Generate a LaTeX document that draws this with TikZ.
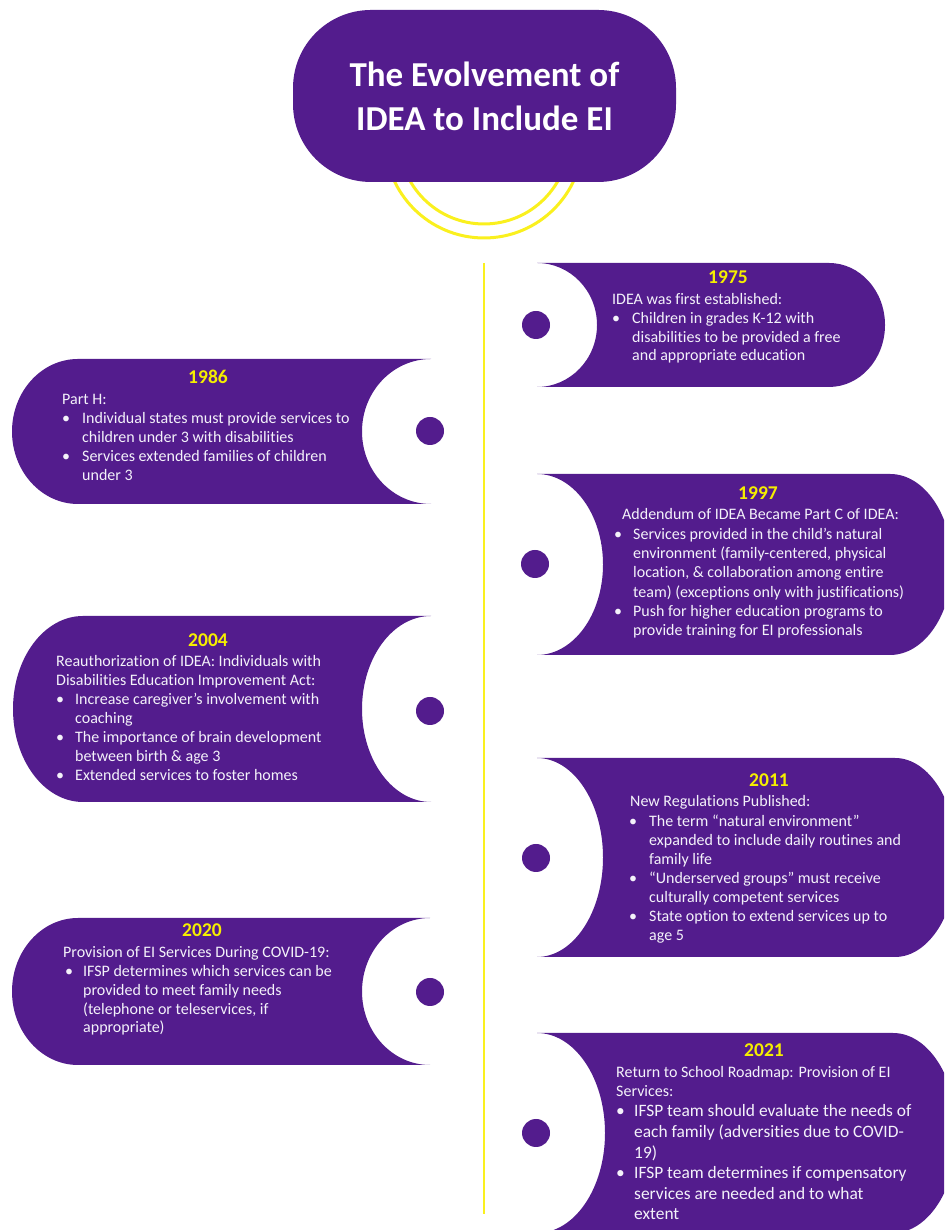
\documentclass[tikz,border=0pt]{standalone}
\usepackage{fontspec}
\setmainfont{Carlito}[Ligatures=NoCommon]
\definecolor{ipurple}{RGB}{83,28,141}
\definecolor{iyellow}{RGB}{245,238,0}
\definecolor{iline}{RGB}{250,240,30}
\definecolor{itext}{RGB}{244,242,250}

\newlength\bw
\newcommand\hd[1]{\hbox{#1}}
\newcommand\bl[1]{\hbox{\makebox[\bw][l]{\textbullet}#1}}
\newcommand\cl[1]{\hbox{\hspace*{\bw}#1}}
\newcommand\lines[3]{\vtop{\bw=#1\relax\baselineskip=#2\relax\lineskiplimit=-30pt\lineskip=0pt #3}}

% right-hand card: L R T B endradius biteradius (pixel coords, origin top-left)
\newcommand\rcard[6]{%
 \pgfmathsetmacro\cT{1230-#3}%
 \pgfmathsetmacro\cB{1230-#4}%
 \pgfmathsetmacro\cH{(#4-#3)/2}%
 \pgfmathsetmacro\cE{#2-#5}%
 \fill[ipurple] (#1,\cT) -- (\cE,\cT) arc[start angle=90,end angle=-90,x radius=#5pt,y radius=\cH pt]
   -- (#1,\cB) arc[start angle=-90,end angle=90,x radius=#6pt,y radius=\cH pt] -- cycle;}
% left-hand card
\newcommand\lcard[6]{%
 \pgfmathsetmacro\cT{1230-#3}%
 \pgfmathsetmacro\cB{1230-#4}%
 \pgfmathsetmacro\cH{(#4-#3)/2}%
 \pgfmathsetmacro\cS{#1+#5}%
 \fill[ipurple] (#2,\cT) -- (\cS,\cT) arc[start angle=90,end angle=270,x radius=#5pt,y radius=\cH pt]
   -- (#2,\cB) arc[start angle=-90,end angle=-270,x radius=#6pt,y radius=\cH pt] -- cycle;}

\tikzset{
  txt/.style={inner sep=0pt, text=itext, font=\fontsize{16}{19}\selectfont, anchor=base west},
  bigtxt/.style={inner sep=0pt, text=itext, font=\fontsize{17.4}{20.6}\selectfont, anchor=base west},
  yr/.style={inner sep=0pt, text=iyellow, font=\bfseries\fontsize{19.5}{21}\selectfont, anchor=base},
  dot/.style={circle, fill=ipurple, minimum size=28pt, inner sep=0pt},
  titlebox/.style={rectangle, rounded corners=78pt, fill=ipurple, minimum width=383pt, minimum height=172pt,
     text=white, align=center, font=\bfseries\fontsize{35}{44}\selectfont},
  ring/.style={draw=iline, line width=3pt},
  spine/.style={draw=iline, line width=1.5pt}
}

\begin{document}
\begin{tikzpicture}[x=1pt,y=1pt]
\clip (0,0) rectangle (944,1230);
\useasboundingbox (0,0) rectangle (944,1230);

% rings behind title
\draw[ring] (484,{1230-139}) circle[radius=99pt];
\draw[ring] (484,{1230-139}) circle[radius=85pt];

\node[titlebox] (title) at (484.5,{1230-96}) {The Evolvement of\\IDEA to Include EI};

% cards
\rcard{537}{885}{263}{387}{56}{60}
\lcard{12}{431}{359}{504}{66}{69}
\rcard{537}{952}{474}{655}{62}{66}
\lcard{13}{431}{616}{802}{70}{69}
\rcard{537}{957}{758}{957}{62}{66}
\lcard{12}{430}{918}{1065}{66}{68}
\rcard{537}{957}{1033}{1233}{64}{68}

% timeline spine
\coordinate (spinetop) at (484,{1230-263});
\coordinate (spinebot) at (484,{1230-1214});
\draw[spine] (spinetop) -- (spinebot);

% dots
\node[dot] (d1975) at (536,{1230-325}) {};
\node[dot] (d1986) at (430,{1230-431}) {};
\node[dot] (d1997) at (535,{1230-564}) {};
\node[dot] (d2004) at (430,{1230-711}) {};
\node[dot] (d2011) at (536,{1230-858}) {};
\node[dot] (d2020) at (430,{1230-992}) {};
\node[dot] (d2021) at (536,{1230-1133}) {};

% 1975
\node[yr] (y1975) at (728,{1230-284}) {1975};
\node[txt] (t1975) at (612,{1230-305}) {\lines{20pt}{18.6pt}{%
 \hd{IDEA was first established:}%
 \bl{Children in grades K-12 with}%
 \cl{disabilities to be provided a free}%
 \cl{and appropriate education}}};

% 1986
\node[yr] (y1986) at (208,{1230-384}) {1986};
\node[txt] (t1986) at (62,{1230-405}) {\lines{20pt}{19pt}{%
 \hd{Part H:}%
 \bl{Individual states must provide services to}%
 \cl{children under 3 with disabilities}%
 \bl{Services extended families of children}%
 \cl{under 3}}};

% 1997
\node[yr] (y1997) at (758,{1230-500}) {1997};
\node[txt] (t1997) at (614,{1230-520}) {\lines{19pt}{19.3pt}{%
 \hd{\hspace*{8pt}Addendum of IDEA Became Part C of IDEA:}%
 \bl{Services provided in the child’s natural}%
 \cl{environment (family-centered, physical}%
 \cl{location, \& collaboration among entire}%
 \cl{team) (exceptions only with justifications)}%
 \bl{Push for higher education programs to}%
 \cl{provide training for EI professionals}}};

% 2004
\node[yr] (y2004) at (208,{1230-647}) {2004};
\node[txt] (t2004) at (56,{1230-667}) {\lines{19pt}{19pt}{%
 \hd{Reauthorization of IDEA: Individuals with}%
 \hd{Disabilities Education Improvement Act:}%
 \bl{Increase caregiver’s involvement with}%
 \cl{coaching}%
 \bl{The importance of brain development}%
 \cl{between birth \& age 3}%
 \bl{Extended services to foster homes}}};

% 2011
\node[yr] (y2011) at (769,{1230-787}) {2011};
\node[txt] (t2011) at (629,{1230-807}) {\lines{20pt}{19.1pt}{%
 \hd{\hspace*{1pt}New Regulations Published:}%
 \bl{The term “natural environment”}%
 \cl{expanded to include daily routines and}%
 \cl{family life}%
 \bl{“Underserved groups” must receive}%
 \cl{culturally competent services}%
 \bl{State option to extend services up to}%
 \cl{age 5}}};

% 2020
\node[yr] (y2020) at (202,{1230-937}) {2020};
\node[txt] (t2020) at (65,{1230-958}) {\lines{18pt}{18.7pt}{%
 \hd{\hspace*{-2pt}Provision of EI Services During COVID-19:}%
 \bl{IFSP determines which services can be}%
 \cl{provided to meet family needs}%
 \cl{(telephone or teleservices, if}%
 \cl{appropriate)}}};

% 2021
\node[yr] (y2021) at (764,{1230-1057}) {2021};
\node[txt] (t2021a) at (616,{1230-1078}) {\lines{18pt}{19pt}{%
 \hd{Return to School Roadmap: Provision of EI}%
 \hd{Services:}}};
\node[bigtxt] (t2021b) at (616,{1230-1117}) {\lines{18pt}{20.6pt}{%
 \bl{IFSP team should evaluate the needs of}%
 \cl{each family (adversities due to COVID-}%
 \cl{19)}%
 \bl{IFSP team determines if compensatory}%
 \cl{services are needed and to what}%
 \cl{extent}}};
\end{tikzpicture}
\end{document}
